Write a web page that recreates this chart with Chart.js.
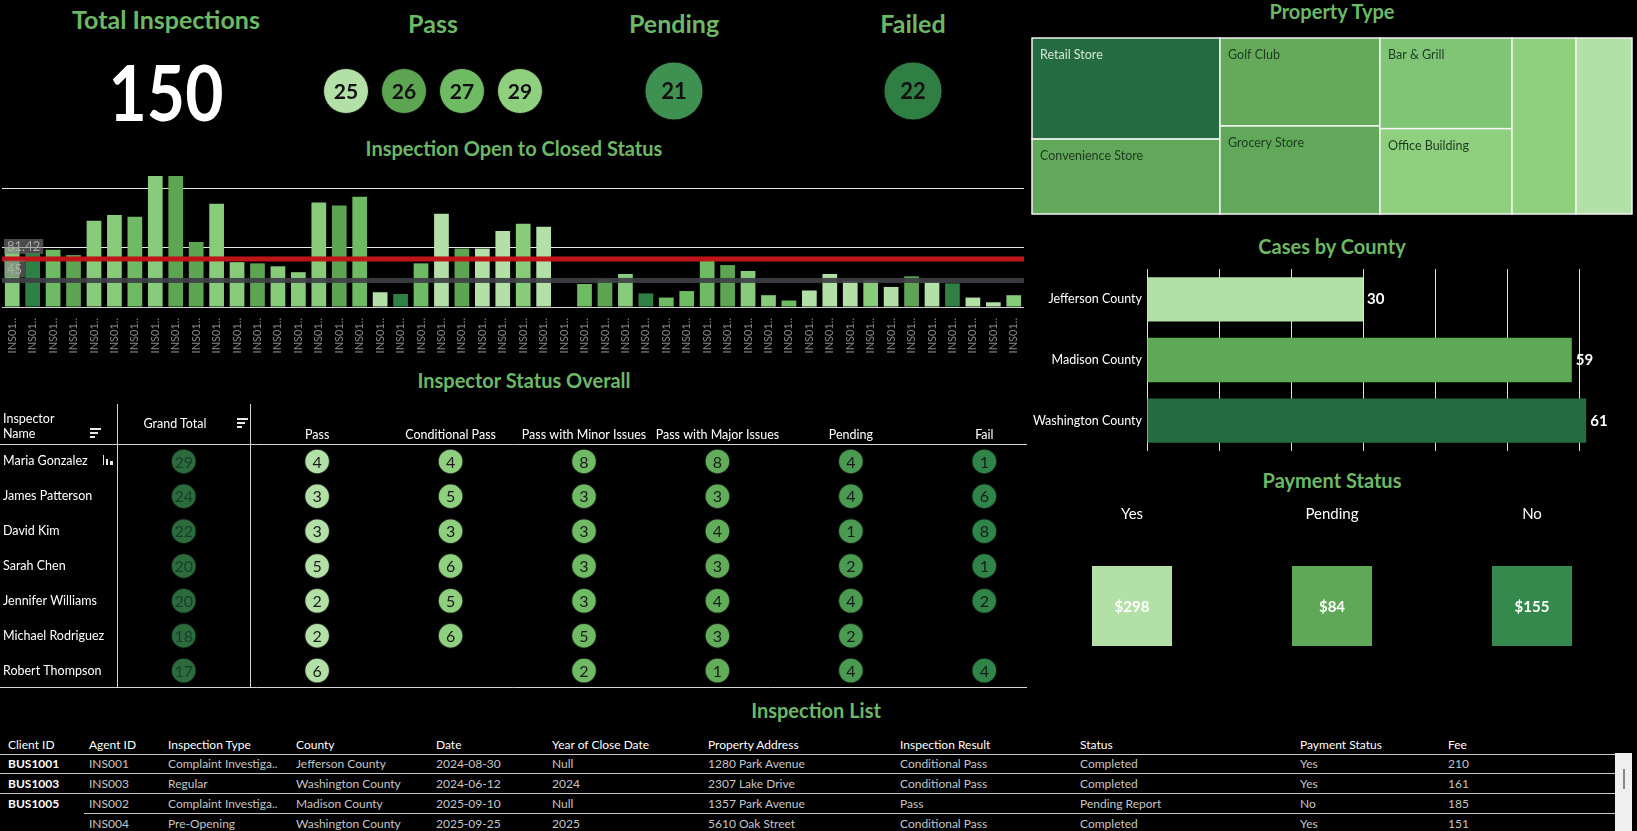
<!DOCTYPE html>
<html>
<head>
<meta charset="utf-8">
<title>Inspection Dashboard</title>
<script src="https://cdn.jsdelivr.net/npm/chart.js@4.4.1/dist/chart.umd.min.js"></script>
<style>
  body { margin: 0; background: #000; font-family: Lato, "Open Sans", sans-serif; }
  #page { position: relative; width: 1637px; height: 831px; overflow: hidden; background: #000; }
  canvas { position: absolute; }
  .txt { position: absolute; white-space: nowrap; transform: translate(-50%, -50%); }
  .title { color: #6cb865; font-weight: 700; font-size: 20px; }
  .big { font-size: 25px; }
  .lbl { position: absolute; white-space: nowrap; color: #fff; font-size: 12.5px; }
  .cell { position: absolute; white-space: nowrap; font-size: 12px; color: #c6c6c6; transform: translateY(-50%); }
  .hline { position: absolute; height: 1px; background: #c8c8c8; }
  .ico { position: absolute; background: #e8e8e8; }
</style>
</head>
<body>
<div id="page">
  <canvas id="passKpi" width="232" height="60" style="left:317px;top:61px"></canvas>
  <canvas id="pendingKpi" width="70" height="70" style="left:639px;top:56px"></canvas>
  <canvas id="failedKpi" width="70" height="70" style="left:878px;top:56px"></canvas>
  <canvas id="openClosed" width="1030" height="179" style="left:0;top:176px"></canvas>
  <canvas id="statusGrid" width="1030" height="288" style="left:0;top:400px"></canvas>
  <canvas id="propertyMap" width="602" height="178" style="left:1031px;top:37px"></canvas>
  <canvas id="countyBars" width="600" height="182" style="left:1032px;top:269px"></canvas>
  <canvas id="paymentSq" width="600" height="150" style="left:1032px;top:500px"></canvas>
</div>
<script>
// ---- data ----
var totalInspections = 150;
var passKpiNames = ['Pass', 'Pass with Major Issues', 'Pass with Minor Issues', 'Conditional Pass'];
var passKpis = [25, 26, 27, 29];
var pendingTotal = 21;
var failedTotal = 22;

var inspectionIds = ['INS0101','INS0102','INS0103','INS0104','INS0105','INS0106','INS0107','INS0108','INS0109','INS0110',
  'INS0111','INS0112','INS0113','INS0114','INS0115','INS0116','INS0117','INS0118','INS0119','INS0120',
  'INS0121','INS0122','INS0123','INS0124','INS0125','INS0126','INS0127','INS0128','INS0129','INS0130',
  'INS0131','INS0132','INS0133','INS0134','INS0135','INS0136','INS0137','INS0138','INS0139','INS0140',
  'INS0141','INS0142','INS0143','INS0144','INS0145','INS0146','INS0147','INS0148','INS0149','INS0150'];
var openToClosed = [100, 91, 97, 88, 146, 156, 153, 222, 222, 110,
  175, 76, 74, 69, 59, 177, 172, 187, 25, 22,
  74, 158, 99, 99, 129, 141, 136, null, 39, 47,
  56, 23, 16, 27, 80, 71, 61, 20, 11, 28,
  56, 44, 45, 34, 52, 42, 40, 16, 8, 20];
var barShade = [1, 4, 2, 3, 1, 1, 2, 1, 3, 3,
  1, 1, 3, 1, 1, 1, 3, 2, 0, 4,
  2, 0, 3, 0, 0, 1, 0, 0, 2, 3,
  1, 4, 2, 2, 2, 3, 1, 1, 2, 0,
  0, 0, 1, 0, 3, 0, 4, 0, 0, 1];
var avgDays = 81.42;
var medianDays = 45;

var inspectors = ['Maria Gonzalez', 'James Patterson', 'David Kim', 'Sarah Chen',
  'Jennifer Williams', 'Michael Rodriguez', 'Robert Thompson'];
var statusCols = ['Grand Total', 'Pass', 'Conditional Pass', 'Pass with Minor Issues',
  'Pass with Major Issues', 'Pending', 'Fail'];
var grandTotals = [29, 24, 22, 20, 20, 18, 17];
var passCounts = [4, 3, 3, 5, 2, 2, 6];
var condPassCounts = [4, 5, 3, 6, 5, 6, null];
var minorCounts = [8, 3, 3, 3, 3, 5, 2];
var majorCounts = [8, 3, 4, 3, 4, 3, 1];
var pendingCounts = [4, 4, 1, 2, 4, 2, 4];
var failCounts = [1, 6, 8, 1, 2, null, 4];

var propertyTypes = ['Retail Store', 'Convenience Store', 'Golf Club', 'Grocery Store',
  'Bar & Grill', 'Office Building', 'Restaurant', 'Warehouse'];
var propertyCounts = [27, 20, 20, 20, 17, 16, 16, 14];
var propertyColumn = [0, 0, 1, 1, 2, 2, 3, 4];

var counties = ['Jefferson County', 'Madison County', 'Washington County'];
var countyCases = [30, 59, 61];

var paymentStatus = ['Yes', 'Pending', 'No'];
var paymentFees = [298, 84, 155];

var listHeaders = ['Client ID', 'Agent ID', 'Inspection Type', 'County', 'Date', 'Year of Close Date',
  'Property Address', 'Inspection Result', 'Status', 'Payment Status', 'Fee'];
var listRows = [
  ['BUS1001', 'INS001', 'Complaint Investiga..', 'Jefferson County', '2024-08-30', 'Null', '1280 Park Avenue', 'Conditional Pass', 'Completed', 'Yes', '210'],
  ['BUS1003', 'INS003', 'Regular', 'Washington County', '2024-06-12', '2024', '2307 Lake Drive', 'Conditional Pass', 'Completed', 'Yes', '161'],
  ['BUS1005', 'INS002', 'Complaint Investiga..', 'Madison County', '2025-09-10', 'Null', '1357 Park Avenue', 'Pass', 'Pending Report', 'No', '185'],
  ['', 'INS004', 'Pre-Opening', 'Washington County', '2025-09-25', '2025', '5610 Oak Street', 'Conditional Pass', 'Completed', 'Yes', '151']
];

// ---- styling ----
var barPalette = ['#b3e0a6', '#88cb7b', '#6fbb63', '#5ea553', '#2e8044'];
var passKpiColors = ['#b3e0a6', '#5ea553', '#6fbb63', '#8fd07f'];
var gridColors = ['#2b6b3c', '#b3e0a6', '#8fd07f', '#6fbb63', '#62ad59', '#4a9a52', '#2f8447'];
var gridText = ['#17402a', '#1a1a1a', '#1a1a1a', '#1a1a1a', '#1a1a1a', '#1a1a1a', '#1a1a1a'];
var treeColors = ['#246b40', '#62a85a', '#64aa5a', '#62a85a', '#80c476', '#8fd07f', '#8fd07f', '#b3e0a6'];
var countyColors = ['#b3e0a6', '#5fa857', '#266b40'];
var paymentColors = ['#b3e0a6', '#5fa857', '#338a4c'];
var listColX = [8, 89, 168, 296, 436, 552, 708, 900, 1080, 1300, 1448];

Chart.defaults.font.family = 'Lato, "Open Sans", sans-serif';
Chart.defaults.color = '#ffffff';
Chart.defaults.animation = false;
Chart.defaults.responsive = false;
Chart.defaults.layout.autoPadding = false;
Chart.defaults.plugins.legend.display = false;
Chart.defaults.plugins.tooltip.enabled = false;

var page = document.getElementById('page');

function addText(str, cx, cy, cls, extra) {
  var d = document.createElement('div');
  d.className = cls;
  d.textContent = str;
  d.style.left = cx + 'px';
  d.style.top = cy + 'px';
  if (extra) d.style.cssText += extra;
  page.appendChild(d);
  return d;
}

function addBox(x, y, w, h) {
  var d = document.createElement('div');
  d.className = 'ico';
  d.style.cssText += 'left:' + x + 'px;top:' + y + 'px;width:' + w + 'px;height:' + h + 'px';
  page.appendChild(d);
}

// little tableau sort glyphs
function sortIcon(x, y) {
  addBox(x, y, 11, 2);
  addBox(x, y + 4, 8, 2);
  addBox(x, y + 8, 5, 2);
}

// titles
addText('Total Inspections', 166, 19, 'txt title big');
addText('Pass', 433, 23, 'txt title big');
addText('Pending', 674, 23, 'txt title big');
addText('Failed', 913, 23, 'txt title big');
addText(String(totalInspections), 166, 92, 'txt', 'color:#fff;font-weight:700;font-size:66px;transform:translate(-50%,-50%) scale(1,1.15);');
addText('Inspection Open to Closed Status', 514, 148, 'txt title');
addText('Inspector Status Overall', 524, 380, 'txt title');
addText('Property Type', 1332, 11, 'txt title');
addText('Cases by County', 1332, 246, 'txt title');
addText('Payment Status', 1332, 480, 'txt title');
addText('Inspection List', 816, 710, 'txt title');

// inspector table header texts outside the axis
addText('Inspector', 3, 418, 'lbl', 'transform:translateY(-50%)');
addText('Name', 3, 433, 'lbl', 'transform:translateY(-50%)');
addText('Grand Total', 175, 423, 'txt', 'color:#fff;font-size:12.5px');
sortIcon(90, 428);
sortIcon(237, 418);
addBox(103, 455, 1, 10);
addBox(106, 459, 2, 6);
addBox(110, 461, 3, 4);

// numbers inside circles / squares
var markText = {
  id: 'markText',
  afterDatasetsDraw: function (chart) {
    var ctx = chart.ctx;
    chart.data.datasets.forEach(function (ds, di) {
      if (!ds.markLabels) return;
      chart.getDatasetMeta(di).data.forEach(function (el, i) {
        ctx.save();
        ctx.font = ds.markFont;
        ctx.fillStyle = ds.markColor;
        ctx.textAlign = 'center';
        ctx.textBaseline = 'middle';
        ctx.fillText(ds.markLabels[i], el.x, el.y + 1);
        ctx.restore();
      });
    });
  }
};

function kpiChart(id, names, values, colors, radius, fontSize) {
  return new Chart(document.getElementById(id), {
    type: 'scatter',
    data: {
      datasets: [{
        data: names.map(function (n) { return { x: n, y: 0 }; }),
        clip: false,
        pointRadius: radius,
        backgroundColor: colors,
        borderColor: '#111',
        borderWidth: 1,
        markLabels: values,
        markFont: 'bold ' + fontSize + 'px Lato',
        markColor: '#111'
      }]
    },
    options: {
      scales: {
        x: { type: 'category', labels: names, offset: true, display: false },
        y: { min: -1, max: 1, display: false }
      }
    },
    plugins: [markText]
  });
}

kpiChart('passKpi', passKpiNames, passKpis, passKpiColors, 22.5, 21);
kpiChart('pendingKpi', ['Pending'], [pendingTotal], ['#3e9150'], 29, 22);
kpiChart('failedKpi', ['Failed'], [failedTotal], ['#2f7f45'], 29, 22);

// ---- open to closed bars ----
var refLines = {
  id: 'refLines',
  afterDatasetsDraw: function (chart) {
    var ctx = chart.ctx, a = chart.chartArea, y = chart.scales.y;
    var ya = y.getPixelForValue(avgDays), ym = y.getPixelForValue(medianDays);
    ctx.save();
    ctx.fillStyle = 'rgba(62,64,70,0.92)';
    ctx.fillRect(a.left, ym - 2.5, a.right - a.left, 5);
    ctx.fillStyle = '#bf1519';
    ctx.fillRect(a.left, ya - 2.5, a.right - a.left, 5);
    ctx.font = '13px Lato';
    ctx.textBaseline = 'middle';
    var t1 = String(avgDays), t2 = String(medianDays);
    ctx.fillStyle = 'rgba(125,125,125,0.6)';
    ctx.fillRect(a.left + 2, ya - 20, ctx.measureText(t1).width + 6, 15);
    ctx.fillRect(a.left + 2, ym - 20, ctx.measureText(t2).width + 6, 17);
    ctx.fillStyle = 'rgba(175,180,175,0.9)';
    ctx.fillText(t1, a.left + 5, ya - 12);
    ctx.fillText(t2, a.left + 5, ym - 11);
    ctx.restore();
  }
};

new Chart(document.getElementById('openClosed'), {
  type: 'bar',
  data: {
    labels: inspectionIds,
    datasets: [{
      data: openToClosed,
      backgroundColor: barShade.map(function (s) { return barPalette[s]; }),
      barPercentage: 0.72,
      categoryPercentage: 1
    }]
  },
  options: {
    layout: { padding: { left: 2, right: 4, top: 0 } },
    scales: {
      x: {
        grid: { display: false },
        border: { color: '#d0d0d0', dash: [2, 2] },
        ticks: {
          color: '#8a8a8a', font: { size: 11 }, minRotation: 90, maxRotation: 90, autoSkip: false, padding: 3,
          callback: function (v) { return this.getLabelForValue(v).slice(0, 5) + '..'; }
        },
        afterFit: function (s) { s.height = 48; }
      },
      y: {
        min: 0, max: 222,
        ticks: { display: false, stepSize: 100 },
        border: { display: false },
        grid: {
          drawTicks: false,
          color: function (c) { return (c.tick.value === 100 || c.tick.value === 200) ? '#e6e6e6' : 'transparent'; }
        },
        afterFit: function (s) { s.width = 0; }
      }
    }
  },
  plugins: [refLines]
});

// ---- inspector status grid ----
var colData = [grandTotals, passCounts, condPassCounts, minorCounts, majorCounts, pendingCounts, failCounts];
var tableLines = {
  id: 'tableLines',
  beforeDatasetsDraw: function (chart) {
    var ctx = chart.ctx, a = chart.chartArea, x = chart.scales.x;
    ctx.save();
    ctx.strokeStyle = '#d6d6d6';
    ctx.lineWidth = 1;
    ctx.beginPath();
    ctx.moveTo(0, a.top + 0.5); ctx.lineTo(a.right, a.top + 0.5);
    ctx.moveTo(0, a.bottom - 0.5); ctx.lineTo(a.right, a.bottom - 0.5);
    var xs = [a.left, x.getPixelForValue(0.5)];
    xs.forEach(function (px) {
      px = Math.round(px) + 0.5;
      ctx.moveTo(px, 4); ctx.lineTo(px, a.bottom);
    });
    ctx.stroke();
    ctx.restore();
  }
};

new Chart(document.getElementById('statusGrid'), {
  type: 'scatter',
  data: {
    datasets: colData.map(function (arr, ci) {
      var pts = [], labels = [];
      arr.forEach(function (v, ri) {
        if (v !== null) { pts.push({ x: ci, y: inspectors[ri] }); labels.push(v); }
      });
      return {
        data: pts,
        pointRadius: 12.5,
        backgroundColor: gridColors[ci],
        borderColor: 'rgba(10,10,10,0.8)',
        borderWidth: 1.5,
        markLabels: labels,
        markFont: '16px Lato',
        markColor: gridText[ci]
      };
    })
  },
  options: {
    layout: { padding: { left: 3, right: 3 } },
    scales: {
      x: {
        type: 'linear', position: 'top', min: -0.5, max: 6.32,
        grid: { display: false, drawTicks: false }, border: { display: false },
        afterBuildTicks: function (s) { s.ticks = statusCols.map(function (c, i) { return { value: i }; }); },
        ticks: {
          autoSkip: false, maxRotation: 0, padding: 2, color: '#fff', font: { size: 12.5 },
          callback: function (v) { return v === 0 ? '' : statusCols[v]; }
        },
        afterFit: function (s) { s.height = 44; s.paddingLeft = 0; s.paddingRight = 0; }
      },
      y: {
        type: 'category', labels: inspectors, offset: true,
        grid: { display: false, drawTicks: false }, border: { display: false },
        ticks: { crossAlign: 'far', color: '#fff', font: { size: 12.5 }, padding: 3 },
        afterFit: function (s) { s.width = 114; s.paddingTop = 0; s.paddingBottom = 0; }
      }
    }
  },
  plugins: [tableLines, markText]
});

// ---- property type treemap ----
var treemapCells = {
  id: 'treemapCells',
  afterDatasetsDraw: function (chart) {
    var ctx = chart.ctx, xs = chart.scales.x, ys = chart.scales.y;
    var nCols = Math.max.apply(null, propertyColumn) + 1;
    var colStart = 0;
    ctx.save();
    for (var c = 0; c < nCols; c++) {
      var idx = [];
      propertyColumn.forEach(function (pc, i) { if (pc === c) idx.push(i); });
      var colSum = idx.reduce(function (s, i) { return s + propertyCounts[i]; }, 0);
      var acc = 0;
      idx.forEach(function (i) {
        var x0 = xs.getPixelForValue(colStart), x1 = xs.getPixelForValue(colStart + colSum);
        var y0 = ys.getPixelForValue(acc / colSum), y1 = ys.getPixelForValue((acc + propertyCounts[i]) / colSum);
        ctx.fillStyle = treeColors[i];
        ctx.fillRect(x0, y0, x1 - x0, y1 - y0);
        ctx.strokeStyle = '#f4f4f4';
        ctx.lineWidth = 1.5;
        ctx.strokeRect(x0, y0, x1 - x0, y1 - y0);
        if (x1 - x0 > 90) {
          ctx.font = '12.5px Lato';
          ctx.fillStyle = i === 0 ? '#d6e6d6' : '#1d3b20';
          ctx.textBaseline = 'middle';
          ctx.fillText(propertyTypes[i], x0 + 8, y0 + 17);
        }
        acc += propertyCounts[i];
      });
      colStart += colSum;
    }
    ctx.restore();
  }
};

new Chart(document.getElementById('propertyMap'), {
  type: 'scatter',
  data: { datasets: [{ data: [] }] },
  options: {
    layout: { padding: 1 },
    scales: {
      x: { min: 0, max: propertyCounts.reduce(function (s, v) { return s + v; }, 0), display: false },
      y: { min: 0, max: 1, reverse: true, display: false }
    }
  },
  plugins: [treemapCells]
});

// ---- cases by county ----
var barValueText = {
  id: 'barValueText',
  afterDatasetsDraw: function (chart) {
    var ctx = chart.ctx, meta = chart.getDatasetMeta(0);
    ctx.save();
    ctx.font = 'bold 15px Lato';
    ctx.fillStyle = '#fff';
    ctx.textBaseline = 'middle';
    meta.data.forEach(function (el, i) {
      ctx.fillText(String(countyCases[i]), el.x + 4, el.y);
    });
    ctx.restore();
  }
};

new Chart(document.getElementById('countyBars'), {
  type: 'bar',
  data: {
    labels: counties,
    datasets: [{ data: countyCases, backgroundColor: countyColors, barPercentage: 0.73, categoryPercentage: 1 }]
  },
  options: {
    indexAxis: 'y',
    layout: { padding: { right: 17 } },
    scales: {
      x: {
        min: 0, max: 65,
        ticks: { display: false, stepSize: 10 },
        border: { display: false },
        grid: { drawTicks: false, color: function (c) { return c.tick.value % 10 === 0 ? '#e2e2e2' : 'transparent'; } },
        afterFit: function (s) { s.height = 0; }
      },
      y: {
        grid: { display: false, drawTicks: false }, border: { display: false },
        ticks: { color: '#fff', font: { size: 12.5 }, padding: 5 },
        afterFit: function (s) { s.width = 115; s.paddingTop = 0; s.paddingBottom = 0; }
      }
    }
  },
  plugins: [barValueText]
});

// ---- payment status squares ----
new Chart(document.getElementById('paymentSq'), {
  type: 'scatter',
  data: {
    datasets: [{
      data: paymentStatus.map(function (s) { return { x: s, y: 'fee' }; }),
      clip: false,
      pointStyle: 'rect',
      pointRadius: 56.6,
      backgroundColor: paymentColors,
      borderWidth: 0,
      markLabels: paymentFees.map(function (f) { return '$' + f; }),
      markFont: 'bold 15px Lato',
      markColor: '#fff'
    }]
  },
  options: {
    layout: { padding: { left: -4, bottom: 4 } },
    scales: {
      x: {
        type: 'category', labels: paymentStatus, offset: true, position: 'top',
        grid: { display: false, drawTicks: false }, border: { display: false },
        ticks: { color: '#fff', font: { size: 15 }, padding: 43 },
        afterFit: function (s) { s.height = 66; }
      },
      y: { type: 'category', labels: ['fee'], offset: true, display: false }
    }
  },
  plugins: [markText]
});

// ---- inspection list table ----
listHeaders.forEach(function (h, i) {
  addText(h, listColX[i], 744, 'cell', 'color:#fff');
});
var rowY = [763, 783, 803, 823];
listRows.forEach(function (row, r) {
  row.forEach(function (v, i) {
    if (v === '') return;
    addText(v, listColX[i], rowY[r], 'cell', i === 0 ? 'color:#fff;font-weight:700' : '');
  });
});
[[754, 0], [773, 0], [793, 0], [813, 84]].forEach(function (l) {
  var d = document.createElement('div');
  d.className = 'hline';
  d.style.top = l[0] + 'px';
  d.style.left = l[1] + 'px';
  d.style.width = (1615 - l[1]) + 'px';
  page.appendChild(d);
});
var sb = document.createElement('div');
sb.style.cssText = 'position:absolute;left:1615px;top:753px;width:17px;height:78px;background:#efefef';
page.appendChild(sb);
var th = document.createElement('div');
th.style.cssText = 'position:absolute;left:1623px;top:769px;width:2px;height:20px;background:#888';
page.appendChild(th);
</script>
</body>
</html>
